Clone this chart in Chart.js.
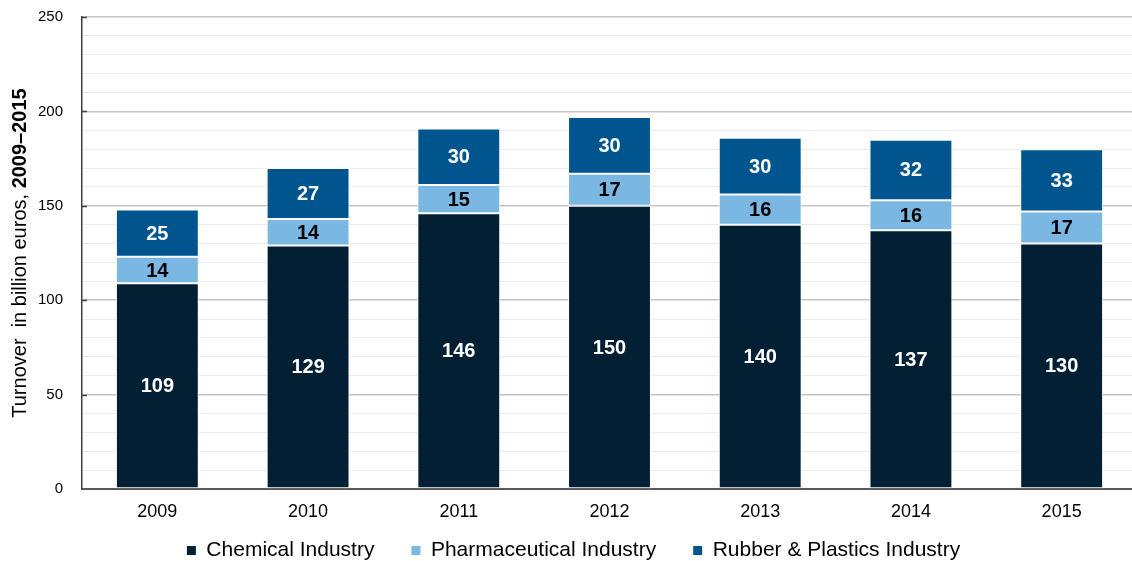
<!DOCTYPE html>
<html>
<head>
<meta charset="utf-8">
<script src="https://cdn.jsdelivr.net/npm/chart.js@4"></script>
<style>
  html, body { margin: 0; padding: 0; background: #fff; overflow: hidden; }
  #chart { display: block; }
</style>
</head>
<body>
<canvas id="chart" width="1140" height="593"></canvas>
<script>
const years = ['2009', '2010', '2011', '2012', '2013', '2014', '2015'];
const chemical = [109, 129, 146, 150, 140, 137, 130];
const pharma = [14, 14, 15, 17, 16, 16, 17];
const rubber = [25, 27, 30, 30, 30, 32, 33];

const fuente = "'Liberation Sans', Arial, sans-serif";

// etiquetas de valor dentro de cada segmento
const etiquetasValor = {
    id: 'etiquetasValor',
    afterDatasetsDraw(chart) {
        const ctx = chart.ctx;
        ctx.save();
        ctx.font = 'bold 20px ' + fuente;
        ctx.textAlign = 'center';
        ctx.textBaseline = 'middle';
        chart.data.datasets.forEach((ds, i) => {
            const meta = chart.getDatasetMeta(i);
            meta.data.forEach((bar, j) => {
                ctx.fillStyle = ds.labelColor;
                ctx.fillText(ds.data[j], bar.x, (bar.y + bar.base) / 2 + 1);
            });
        });
        ctx.restore();
    }
};

// subir la leyenda para que quede pegada a las etiquetas del eje x
const subirLeyenda = {
    id: 'subirLeyenda',
    afterLayout(chart) {
        if (chart.legend) {
            chart.legend.top -= 22;
            chart.legend.bottom -= 22;
            chart.legend.left += 5;
            chart.legend.right += 5;
        }
    }
};

// titulo del eje y con parte en negrita, y marcas de tick hacia dentro
const tituloEjeY = {
    id: 'tituloEjeY',
    afterDraw(chart) {
        const ctx = chart.ctx;
        const area = chart.chartArea;
        const normal = 'Turnover  in billion euros, ';
        const negrita = '2009\u20132015';
        ctx.save();
        ctx.font = '20px ' + fuente;
        const w1 = ctx.measureText(normal).width;
        ctx.font = 'bold 20px ' + fuente;
        const w2 = ctx.measureText(negrita).width;
        const total = w1 + w2;
        ctx.translate(20, (area.top + area.bottom) / 2);
        ctx.rotate(-Math.PI / 2);
        ctx.textBaseline = 'middle';
        ctx.textAlign = 'left';
        ctx.fillStyle = '#000';
        ctx.font = '20px ' + fuente;
        ctx.fillText(normal, -total / 2, 0);
        ctx.font = 'bold 20px ' + fuente;
        ctx.fillText(negrita, -total / 2 + w1, 0);
        ctx.restore();

        const y = chart.scales.y;
        ctx.save();
        ctx.strokeStyle = '#404040';
        ctx.lineWidth = 1.5;
        [50, 100, 150, 200, 250].forEach(v => {
            const py = Math.round(y.getPixelForValue(v)) + 0.5;
            ctx.beginPath();
            ctx.moveTo(area.left, py);
            ctx.lineTo(area.left + 5, py);
            ctx.stroke();
        });
        ctx.restore();
    }
};

new Chart(document.getElementById('chart'), {
    type: 'bar',
    data: {
        labels: years,
        datasets: [
            { label: 'Chemical Industry', data: chemical, backgroundColor: '#021F33', labelColor: '#ffffff' },
            { label: 'Pharmaceutical Industry', data: pharma, backgroundColor: '#7AB8E3', labelColor: '#000000' },
            { label: 'Rubber & Plastics Industry', data: rubber, backgroundColor: '#00558F', labelColor: '#ffffff' }
        ].map(d => ({
            ...d,
            borderColor: '#ffffff',
            borderWidth: 1,
            borderSkipped: false,
            categoryPercentage: 1,
            barPercentage: 0.55
        }))
    },
    options: {
        responsive: false,
        devicePixelRatio: 1,
        animation: false,
        layout: { padding: { left: 0, right: 3, top: 17, bottom: 0 } },
        scales: {
            x: {
                stacked: true,
                grid: { display: false, drawTicks: false },
                border: { color: '#595959', width: 2 },
                ticks: { color: '#000', font: { family: fuente, size: 18 }, padding: 12 },
                afterFit(scale) { scale.height = 36; }
            },
            y: {
                stacked: true,
                min: 0,
                max: 250,
                border: { color: '#404040', width: 1.5 },
                grid: {
                    drawTicks: false,
                    color: c => (c.tick.value % 50 === 0 ? '#c4c4c4' : '#ececec'),
                    lineWidth: c => (c.tick.value % 50 === 0 ? 1.5 : 1)
                },
                ticks: {
                    stepSize: 10,
                    autoSkip: false,
                    color: '#000',
                    font: { family: fuente, size: 15 },
                    padding: 19,
                    callback: v => (v % 50 === 0 ? v : '')
                },
                afterFit(scale) {
                    scale.width = 82;
                    scale.paddingTop = 0;
                    scale.paddingBottom = 0;
                }
            }
        },
        plugins: {
            legend: {
                position: 'bottom',
                labels: {
                    color: '#000',
                    font: { family: fuente, size: 21 },
                    boxWidth: 9,
                    boxHeight: 9,
                    padding: 37,
                    generateLabels: chart => Chart.defaults.plugins.legend.labels.generateLabels(chart)
                        .map(l => ({ ...l, strokeStyle: l.fillStyle, lineWidth: 0 }))
                }
            },
            tooltip: { enabled: false }
        }
    },
    plugins: [etiquetasValor, tituloEjeY, subirLeyenda]
});
</script>
</body>
</html>
